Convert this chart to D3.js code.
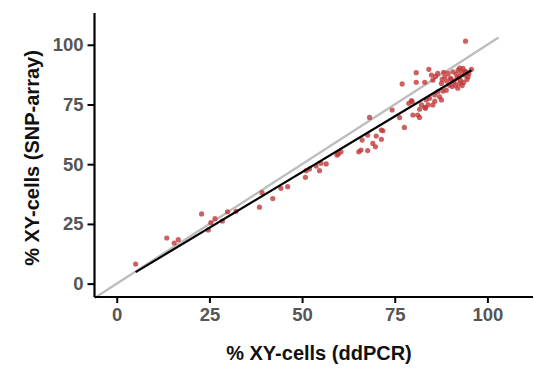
<!DOCTYPE html>
<html><head><meta charset="utf-8">
<script src="https://cdn.jsdelivr.net/npm/d3@7"></script>
<style>body{margin:0;background:#fff}svg{display:block}</style>
</head><body>
<svg id="chart" width="534" height="370"></svg>
<script>
const ddpcr = [5.1,13.5,15.5,16.6,22.9,24.7,25.4,26.5,28.5,29.9,32.2,38.5,39.2,42.1,44.3,46.1,
50.9,51.1,52.0,53.8,54.7,55.1,56.5,59.4,60.5,59.8,65.3,65.9,66.2,67.7,67.7,68.2,69.1,69.8,70.0,71.4,71.4,71.8,
74.3,76.3,77.6,77.0,78.8,79.5,79.9,79.7,80.8,80.8,81.7,81.7,82.2,83.1,83.1,83.5,84.0,84.2,84.4,85.3,85.3,85.8,85.8,
84.9,86.6,86.6,87.1,87.6,87.6,88.0,88.5,88.9,89.4,89.8,90.3,90.7,91.4,91.6,92.1,92.5,92.5,93.0,93.4,93.9,94.1,94.3,94.8,95.7,
90.0,91.0,92.8,93.6,94.5,91.8,89.0,90.5,92.0,93.2,87.8,86.0,88.2,92.5,93.8,95.0,81.2,83.3];
const snparray = [8.2,19.1,17.0,18.4,29.2,22.5,25.5,27.2,26.2,30.1,30.3,32.0,38.1,35.6,39.9,40.6,
44.5,47.3,48.0,49.2,47.3,50.4,50.1,53.8,55.2,54.3,55.2,55.9,60.1,55.7,62.2,69.6,58.7,57.3,61.8,60.4,64.3,64.0,
72.7,69.5,65.4,83.6,75.5,76.6,70.6,76.2,88.3,84.3,73.0,69.6,74.8,84.3,73.8,76.9,74.8,89.7,77.6,85.2,74.8,79.0,76.4,
87.3,88.0,80.3,78.2,83.8,76.9,80.6,86.6,81.0,88.0,83.1,85.5,88.7,83.1,87.7,89.4,86.6,83.8,88.3,90.1,87.3,101.5,88.7,86.6,89.7,
86.0,84.5,85.0,84.2,85.5,86.0,84.8,82.5,81.8,82.9,85.5,86.8,88.5,90.2,89.0,88.0,70.6,73.4];
const xTicks = [0,25,50,75,100];
const yTicks = [0,25,50,75,100];
const xTitle = "% XY-cells (ddPCR)";
const yTitle = "% XY-cells (SNP-array)";
const identityEnd = 103;
// linear fit
const fitSlope = 0.933;
const fitIntercept = 0.05;

const svg = d3.select("#chart");
const L = 94.5, R = 533, T = 13, B = 297;
const x = d3.scaleLinear().domain([-6.0, 112.3]).range([L, R]);
const y = d3.scaleLinear().domain([-5.6, 113.3]).range([B, T]);

const pts = ddpcr.map((d,i)=>({x:d, y:snparray[i]}));

// identity line
svg.append("line")
  .attr("x1", x(-6.0)).attr("y1", y(-6.0))
  .attr("x2", x(identityEnd)).attr("y2", y(identityEnd))
  .attr("stroke", "#bdbdbd").attr("stroke-width", 2.4);

// points
svg.append("g").selectAll("circle").data(pts).join("circle")
  .attr("cx", d=>x(d.x)).attr("cy", d=>y(d.y)).attr("r", 2.6)
  .attr("fill", "#bf3434").attr("fill-opacity", 0.78);

// linear fit
const [x0, x1] = d3.extent(ddpcr);
svg.append("line")
  .attr("x1", x(x0)).attr("y1", y(fitIntercept+fitSlope*x0))
  .attr("x2", x(x1)).attr("y2", y(fitIntercept+fitSlope*x1))
  .attr("stroke", "#000").attr("stroke-width", 2.2);

// axes
const xAxis = svg.append("g").attr("transform", `translate(0,${B})`)
  .call(d3.axisBottom(x).tickValues(xTicks).tickSize(6).tickPadding(5));
const yAxis = svg.append("g").attr("transform", `translate(${L},0)`)
  .call(d3.axisLeft(y).tickValues(yTicks).tickSize(7).tickPadding(4));
[xAxis, yAxis].forEach(g=>{
  g.select(".domain").attr("stroke", "#000").attr("stroke-width", 2.2);
  g.selectAll(".tick line").attr("stroke", "#000").attr("stroke-width", 2);
  g.selectAll(".tick text").attr("fill", "#555").attr("font-family", "Liberation Sans, Arial, sans-serif")
    .attr("font-weight", "bold").attr("font-size", "18.5px");
});
xAxis.select(".domain").attr("d", `M${L},0H${R}`);
yAxis.select(".domain").attr("d", `M0,${T}V${B}`);

svg.append("text").attr("x", 319).attr("y", 360).attr("text-anchor", "middle")
  .attr("font-family", "Liberation Sans, Arial, sans-serif").attr("font-weight", "bold")
  .attr("font-size", "20px").attr("fill", "#111").text(xTitle);
svg.append("text").attr("transform", "translate(39,158) rotate(-90)").attr("text-anchor", "middle")
  .attr("font-family", "Liberation Sans, Arial, sans-serif").attr("font-weight", "bold")
  .attr("font-size", "20px").attr("fill", "#111").text(yTitle);
</script>
</body></html>
